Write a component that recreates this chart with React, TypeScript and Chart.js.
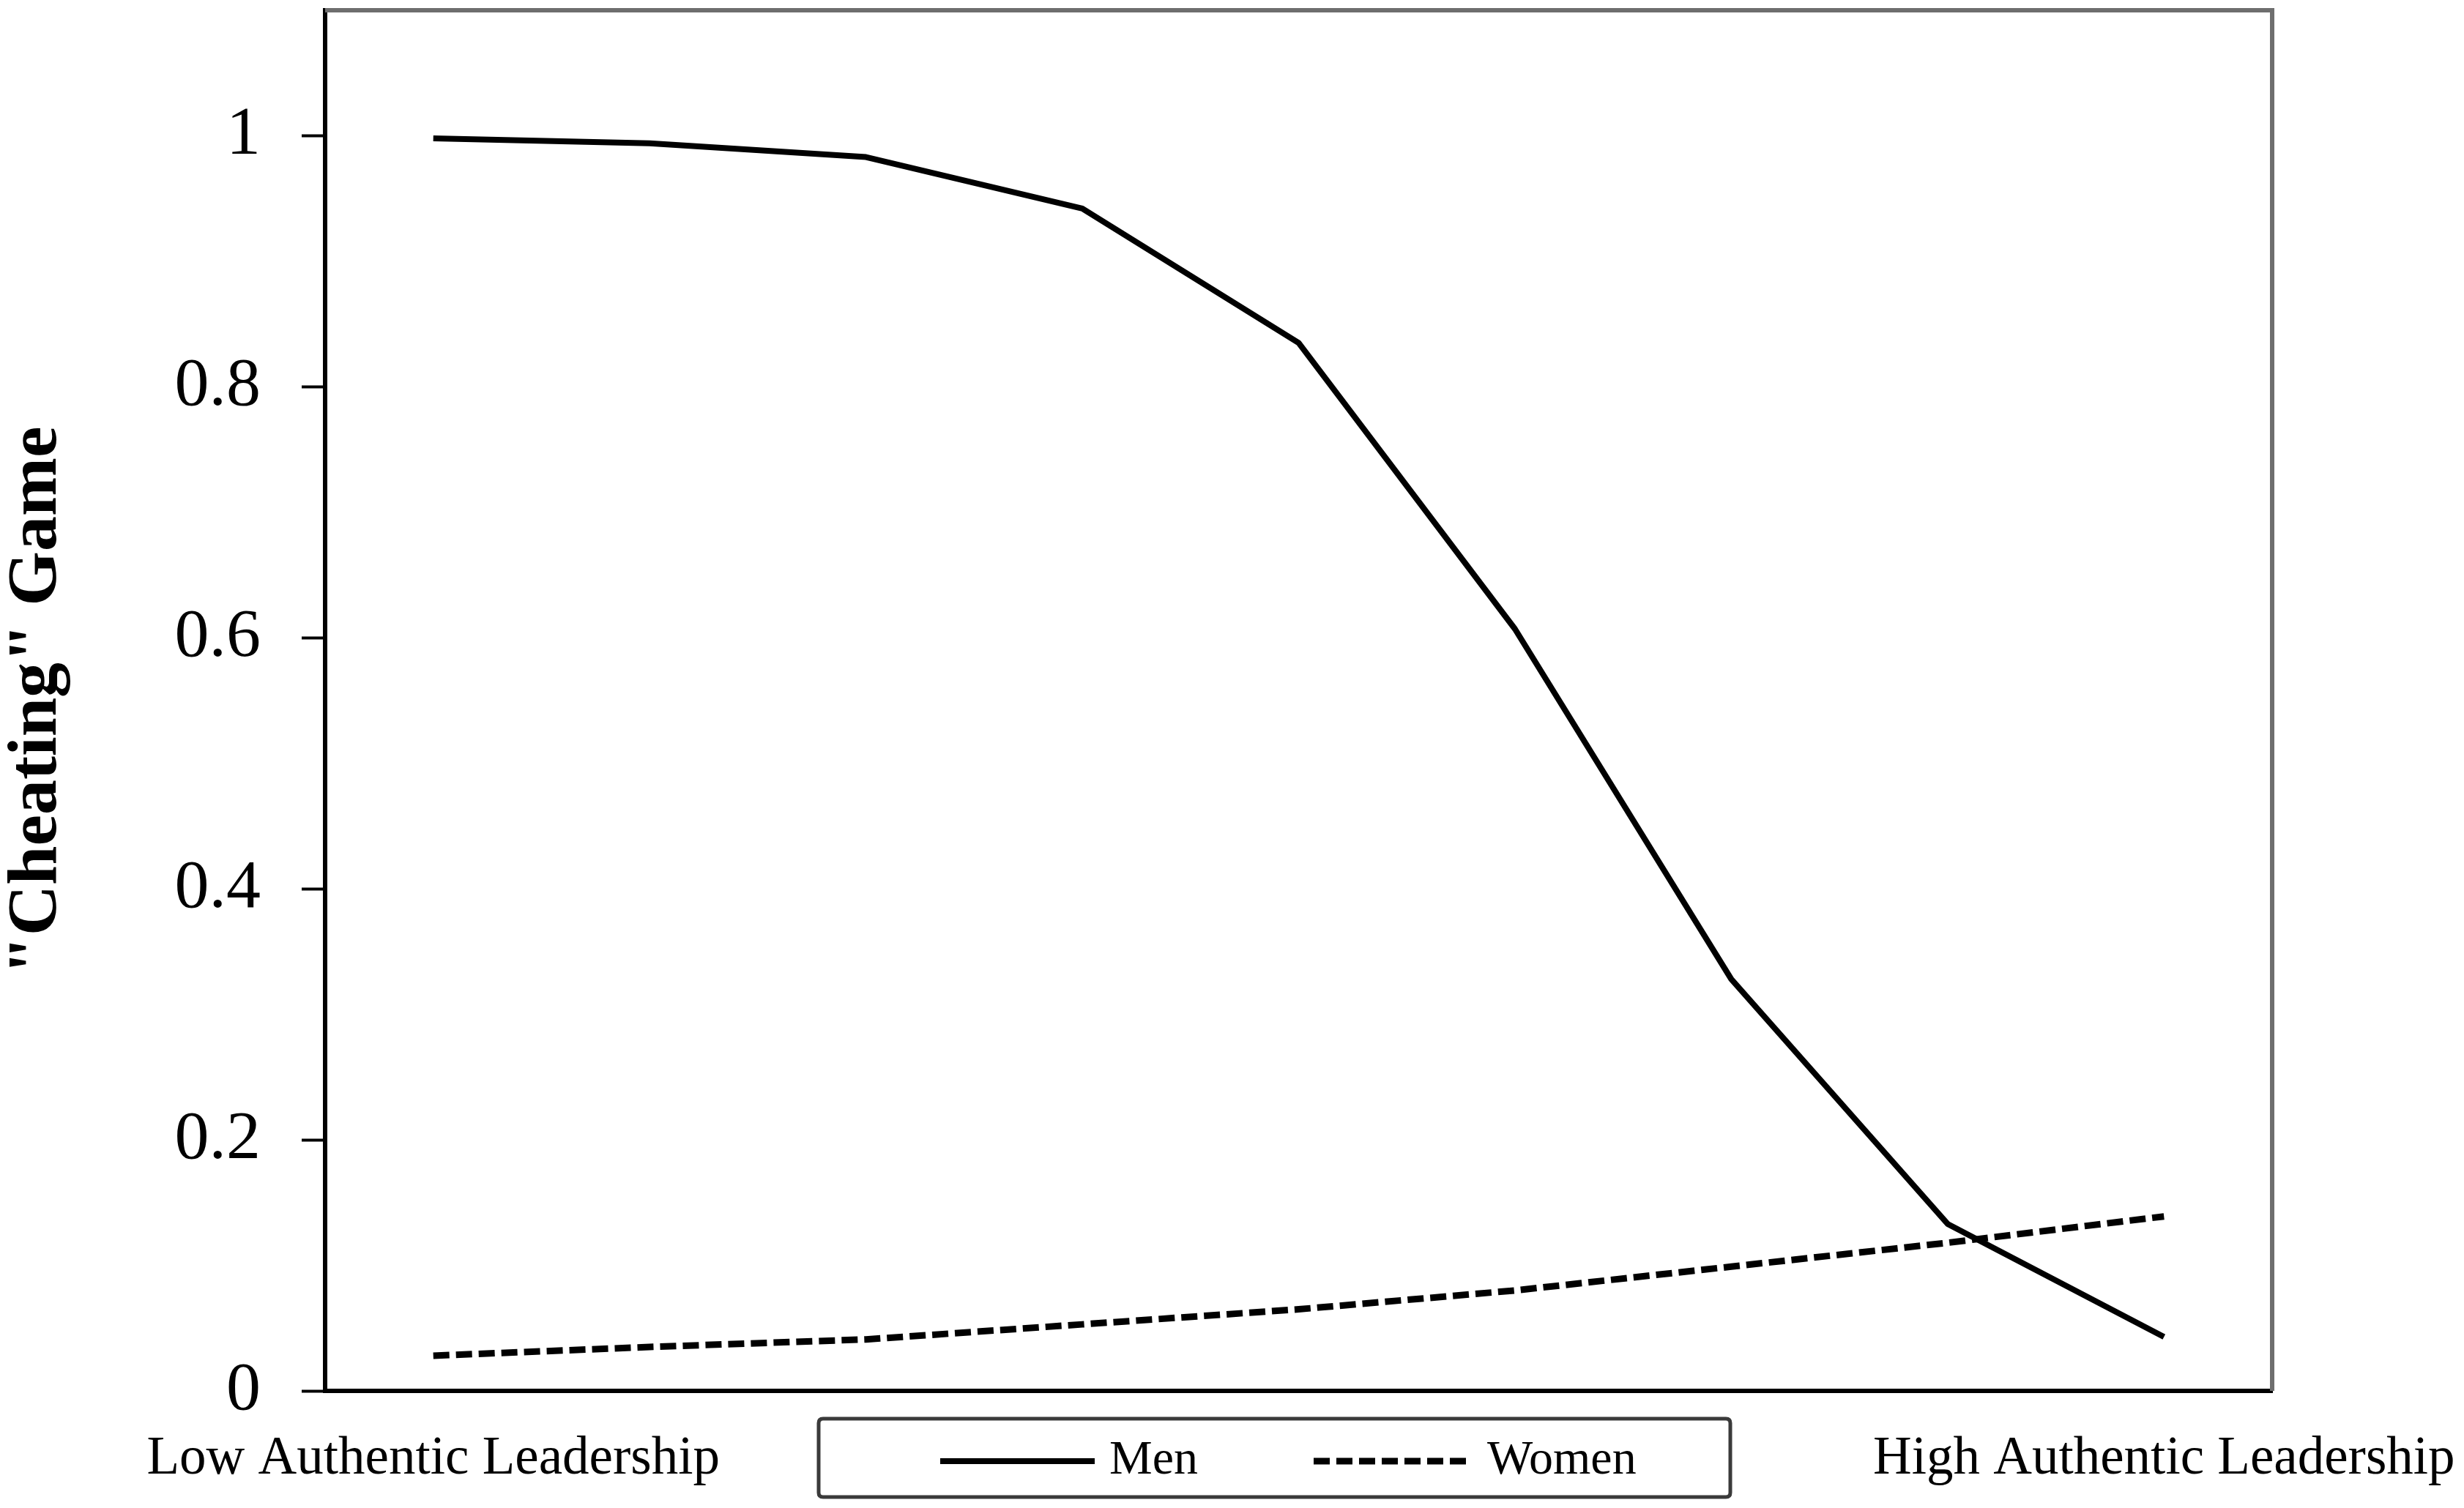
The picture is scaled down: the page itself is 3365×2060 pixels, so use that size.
import React, { useEffect, useRef } from "react";
import { Chart, registerables } from "chart.js";

Chart.register(...registerables);

// ---------- data ----------
const categories = ["1", "2", "3", "4", "5", "6", "7", "8", "9"];
const xTickLabels = [
  "Low Authentic Leadership",
  "",
  "",
  "",
  "",
  "",
  "",
  "",
  "High Authentic Leadership",
];
const menValues = [0.998, 0.994, 0.983, 0.942, 0.835, 0.607, 0.328, 0.133, 0.043];
const womenValues = [0.028, 0.035, 0.041, 0.053, 0.065, 0.08, 0.099, 0.118, 0.139];
const seriesLabels = ["Men", "Women"];
const yTitle = '"Cheating" Game';
const yMin = 0;
const yMax = 1.1;
const yStep = 0.2;

// ---------- layout ----------
const W = 3365;
const H = 2060;
const SERIF = "'Liberation Serif', 'Times New Roman', serif";

const framePlugin = {
  id: "frameTopRight",
  afterDraw(chart: any) {
    const { ctx, chartArea } = chart;
    const { left, top, right, bottom } = chartArea;
    ctx.save();
    ctx.strokeStyle = "#6e6e6e";
    ctx.lineWidth = 6;
    ctx.lineJoin = "miter";
    ctx.beginPath();
    ctx.moveTo(left, top);
    ctx.lineTo(right, top);
    ctx.lineTo(right, bottom);
    ctx.stroke();
    ctx.restore();
  },
};

const legendItems = [
  { x1: 1284, x2: 1495, textX: 1515 },
  { x1: 1794, x2: 2005, textX: 2031 },
];
const legendBox = { x: 1118, y: 1938, w: 1245, h: 107, r: 6 };
const legendY = 1996;

const boxLegendPlugin = {
  id: "boxLegend",
  afterDraw(chart: any) {
    const ctx = chart.ctx as CanvasRenderingContext2D;
    ctx.save();
    ctx.lineWidth = 5;
    ctx.strokeStyle = "#3a3a3a";
    ctx.beginPath();
    const { x, y, w, h, r } = legendBox;
    ctx.moveTo(x + r, y);
    ctx.lineTo(x + w - r, y);
    ctx.quadraticCurveTo(x + w, y, x + w, y + r);
    ctx.lineTo(x + w, y + h - r);
    ctx.quadraticCurveTo(x + w, y + h, x + w - r, y + h);
    ctx.lineTo(x + r, y + h);
    ctx.quadraticCurveTo(x, y + h, x, y + h - r);
    ctx.lineTo(x, y + r);
    ctx.quadraticCurveTo(x, y, x + r, y);
    ctx.closePath();
    ctx.stroke();

    chart.data.datasets.forEach((ds: any, i: number) => {
      const item = legendItems[i];
      if (!item) return;
      ctx.setLineDash(ds.borderDash || []);
      ctx.lineWidth = ds.borderWidth;
      ctx.strokeStyle = ds.borderColor;
      ctx.lineCap = "butt";
      ctx.beginPath();
      ctx.moveTo(item.x1, legendY);
      ctx.lineTo(item.x2, legendY);
      ctx.stroke();
      ctx.setLineDash([]);
      ctx.fillStyle = "#000";
      ctx.font = `66px ${SERIF}`;
      ctx.textBaseline = "middle";
      ctx.textAlign = "left";
      ctx.fillText(ds.label, item.textX, legendY);
    });
    ctx.restore();
  },
};

export default function App() {
  const ref = useRef<HTMLCanvasElement>(null);

  useEffect(() => {
    document.body.style.margin = "0";
    document.body.style.overflow = "hidden";
    document.body.style.background = "#fff";
    const canvas = ref.current;
    if (!canvas) return;

    const chart = new Chart(canvas, {
      type: "line",
      data: {
        labels: categories,
        datasets: [
          {
            label: seriesLabels[0],
            data: menValues,
            borderColor: "#000",
            borderWidth: 8,
            pointRadius: 0,
            tension: 0,
            fill: false,
            borderJoinStyle: "round",
          },
          {
            label: seriesLabels[1],
            data: womenValues,
            borderColor: "#000",
            borderWidth: 9,
            borderDash: [22, 9],
            pointRadius: 0,
            tension: 0,
            fill: false,
          },
        ],
      },
      options: {
        animation: false,
        responsive: false,
        devicePixelRatio: 1,
        events: [],
        layout: {
          padding: { left: 0, top: 14, right: W - 3103, bottom: 0 },
        },
        plugins: {
          legend: { display: false },
          tooltip: { enabled: false },
          title: { display: false },
        },
        scales: {
          x: {
            type: "category",
            offset: true,
            grid: { display: false, drawTicks: false },
            border: { display: true, color: "#000", width: 6 },
            ticks: {
              autoSkip: false,
              maxRotation: 0,
              minRotation: 0,
              padding: 50,
              color: "#000",
              font: { family: SERIF, size: 73, lineHeight: 1.2 },
              callback: (_v: any, i: number) => xTickLabels[i],
            },
            afterFit: (scale: any) => {
              scale.height = H - 1900;
              scale.paddingLeft = 0;
              scale.paddingRight = 0;
            },
          },
          y: {
            type: "linear",
            min: yMin,
            max: yMax,
            grid: {
              display: true,
              drawOnChartArea: false,
              drawTicks: true,
              tickLength: 32,
              tickWidth: 4,
              tickColor: "#000",
            },
            border: { display: true, color: "#000", width: 6 },
            ticks: {
              stepSize: yStep,
              includeBounds: false,
              padding: 56,
              color: "#000",
              font: { family: SERIF, size: 94, lineHeight: 1.2 },
              callback: (v: any) => String(Math.round(Number(v) * 10) / 10),
            },
            title: {
              display: true,
              text: yTitle,
              color: "#000",
              padding: { top: 6, bottom: 0 },
              font: { family: SERIF, size: 96, weight: "bold", lineHeight: 0.95 },
            },
            afterFit: (scale: any) => {
              scale.width = 444;
              scale.paddingTop = 0;
              scale.paddingBottom = 0;
            },
          },
        },
      } as any,
      plugins: [framePlugin, boxLegendPlugin],
    });

    return () => chart.destroy();
  }, []);

  return (
    <div style={{ width: W, height: H, background: "#fff" }}>
      <canvas ref={ref} width={W} height={H} style={{ display: "block", width: W, height: H }} />
    </div>
  );
}
